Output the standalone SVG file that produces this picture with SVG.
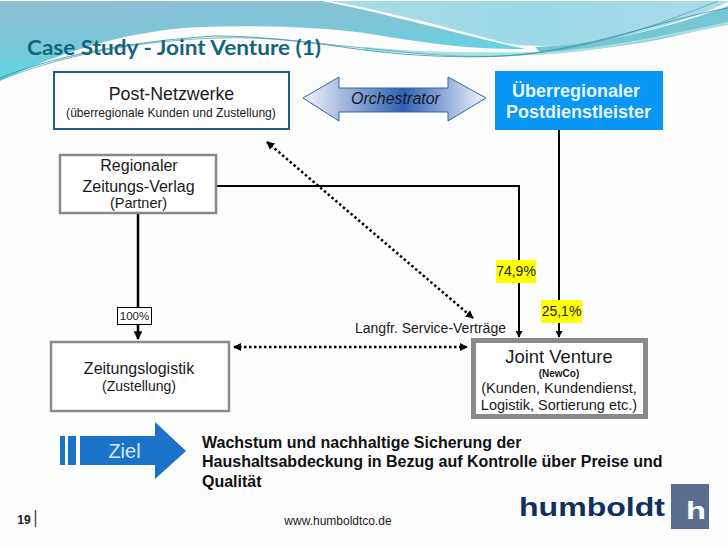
<svg xmlns="http://www.w3.org/2000/svg" width="728" height="546" viewBox="0 0 728 546">
<style>
text{font-family:"Liberation Sans",Arial,sans-serif;fill:#1a1a1a;text-anchor:middle}
.box{fill:#fff;stroke:#8a8a8a;stroke-width:2.5}
.solid{fill:none;stroke:#000;stroke-width:2}
.dot{fill:none;stroke:#000;stroke-width:2.5;stroke-dasharray:2.5 2.5}
.yl{fill:#ffff00}
.goal{text-anchor:start;fill:#111;font-size:16px;font-weight:700}
</style>
<defs>
<linearGradient id="sky" x1="0" y1="0" x2="0.3" y2="1"><stop offset="0" stop-color="#8fc0d4"/><stop offset="0.5" stop-color="#7cc6da"/><stop offset="1" stop-color="#55dbe8"/></linearGradient>
<linearGradient id="sky2" x1="0" y1="0" x2="1" y2="0"><stop offset="0" stop-color="#a9dee2"/><stop offset="0.5" stop-color="#9bd9e6"/><stop offset="1" stop-color="#a9dde8"/></linearGradient>
<linearGradient id="orch" x1="0" y1="0" x2="1" y2="0"><stop offset="0" stop-color="#f4f5fb"/><stop offset="0.55" stop-color="#2f5fb5"/><stop offset="1" stop-color="#f4f5fb"/></linearGradient>
<marker id="ah" viewBox="0 0 10 10" refX="9" refY="5" markerWidth="3.500" markerHeight="3.500" orient="auto-start-reverse"><path d="M0 0L10 5L0 10z" fill="#000"/></marker>
<marker id="ahd" viewBox="0 0 10 10" refX="9" refY="5" markerWidth="3.200" markerHeight="3.200" orient="auto-start-reverse"><path d="M0 0L10 5L0 10z" fill="#000"/></marker>
</defs>
<rect width="728" height="546" fill="#fdfdfd"/>
<g id="banner">
<path d="M0 1H322C380 12 450 32 525 49C470 50 420 42 364 33C320 27 260 25 200 27C130 30 60 52 0 81z" fill="url(#sky)"/>
<path d="M330 1H728V2C690 20 610 46 540 46C520 46 510 44 505 43C450 28 390 12 330 1z" fill="url(#sky2)"/>
<path d="M535 47C610 44 680 24 728 6V22C670 40 600 52 540 52z" fill="#76c6d6"/>
<path d="M364 47C420 52 470 53 540 52C600 50 670 34 728 22V25C660 38 590 54 530 55C470 58 410 54 364 50z" fill="#a8e0e6"/>
<path d="M0 80C50 60 120 42 215 38C270 36 320 44 364 48C420 54 480 60 530 54C600 46 660 24 718 1" fill="none" stroke="#5aa6b4" stroke-width="0.8"/>
<path d="M0 78C50 58 120 42 215 36C270 36 320 44 364 50C420 57 490 60 540 52C610 42 670 18 728 8" fill="none" stroke="#2f93a6" stroke-width="0.8"/>
</g>
<text x="174" y="55" style="font-family:Lato,'Open Sans',sans-serif;font-weight:700;font-size:21px;fill:#14647e" textLength="294" lengthAdjust="spacingAndGlyphs">Case Study - Joint Venture (1)</text>
<g id="connectors">
<path class="solid" d="M216 186H519V337" marker-end="url(#ah)"/>
<path class="solid" d="M559 130V337" marker-end="url(#ah)"/>
<path class="solid" style="stroke-width:2.500" d="M138 213V339" marker-end="url(#ah)"/>
<path class="dot" d="M267 142L473 318" marker-start="url(#ahd)" marker-end="url(#ahd)"/>
<path class="dot" d="M234 347H467" marker-start="url(#ahd)" marker-end="url(#ahd)"/>
</g>
<g id="post-netzwerke">
<rect x="54" y="72" width="235" height="57" fill="#fff" stroke="#1d5f8e" stroke-width="2"/>
<text x="171.500" y="100" font-size="17.800">Post-Netzwerke</text>
<text x="171" y="117" font-size="12.100">(überregionale Kunden und Zustellung)</text>
</g>
<g id="orchestrator">
<path d="M303 98L339 77V88H448V77L486 98L448 121V112H339V121z" fill="url(#orch)" stroke="#2c6c9c" stroke-width="1"/>
<text x="395.500" y="104" font-size="16" font-style="italic">Orchestrator</text>
</g>
<g id="postdienstleister">
<rect x="495" y="71" width="168" height="59" fill="#0a96f5"/>
<text x="576" y="97" font-size="18" font-weight="700" style="fill:#e6f5ff">Überregionaler</text>
<text x="578.500" y="118" font-size="18" font-weight="700" style="fill:#e6f5ff">Postdienstleister</text>
</g>
<g id="zeitungs-verlag">
<rect class="box" x="60" y="155" width="156" height="58"/>
<text x="139" y="171" font-size="16">Regionaler</text>
<text x="138.500" y="192" font-size="16">Zeitungs-Verlag</text>
<text x="138.500" y="208" font-size="14.500">(Partner)</text>
</g>
<g id="zeitungslogistik">
<rect class="box" x="51" y="342" width="178" height="69"/>
<text x="139" y="374" font-size="16">Zeitungslogistik</text>
<text x="139" y="391" font-size="14">(Zustellung)</text>
</g>
<g id="joint-venture">
<rect x="473.500" y="340.500" width="172" height="76" fill="#fff" stroke="#8a8a8a" stroke-width="5"/>
<text x="559" y="363" font-size="18.400">Joint Venture</text>
<text x="559" y="377" font-size="10" font-weight="700">(NewCo)</text>
<text x="559" y="393" font-size="14.500">(Kunden, Kundendienst,</text>
<text x="559" y="410" font-size="14.500">Logistik, Sortierung etc.)</text>
</g>
<g id="label-100">
<rect x="117.500" y="307.500" width="34" height="17" fill="#fff" stroke="#000" stroke-width="1"/>
<text x="134.500" y="320" font-size="11.500">100%</text>
</g>
<g id="label-749">
<rect class="yl" x="496" y="260" width="40" height="23"/>
<text x="516" y="276" font-size="14">74,9%</text>
</g>
<g id="label-251">
<rect class="yl" x="541" y="300" width="41" height="23"/>
<text x="561.500" y="316" font-size="14">25,1%</text>
</g>
<text x="430.500" y="333" font-size="14">Langfr. Service-Verträge</text>
<g id="ziel">
<path d="M60 436h5v29h-5zM68 436h8v29h-8zM80 436h75v-14l31 29l-31 28v-14h-75z" fill="#1a73c9"/>
<text x="124.500" y="458" font-size="20" style="fill:#d5e8f8">Ziel</text>
</g>
<g id="goal-text">
<text class="goal" x="202" y="448">Wachstum und nachhaltige Sicherung der</text>
<text class="goal" x="202" y="467">Haushaltsabdeckung in Bezug auf Kontrolle über Preise und</text>
<text class="goal" x="202" y="487">Qualität</text>
</g>
<text x="24" y="524" font-size="12" font-weight="700">19</text>
<path d="M35.500 510V527" stroke="#555" stroke-width="1.500"/>
<text x="338" y="525" font-size="12">www.humboldtco.de</text>
<g id="logo">
<text x="592" y="516" style="font-weight:700;fill:#12305f;font-size:25px" textLength="146" lengthAdjust="spacingAndGlyphs">humboldt</text>
<rect x="671" y="484" width="38" height="45" fill="#5b6d8e"/>
<text x="696" y="519" style="font-weight:700;fill:#fff;font-size:24px" textLength="20" lengthAdjust="spacingAndGlyphs">h</text>
</g>
</svg>
